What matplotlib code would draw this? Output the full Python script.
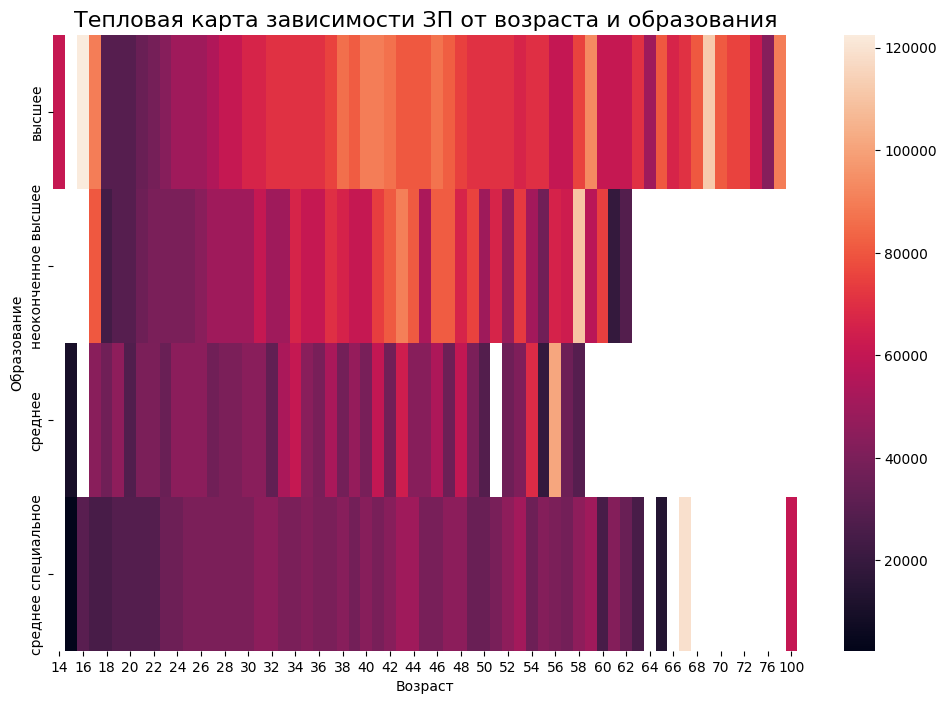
import numpy as np
import pandas as pd
import seaborn as sns
from matplotlib import pyplot as plt

n = np.nan
ages = list(range(14, 73)) + [74, 76, 78, 100]
education = ['высшее', 'неоконченное высшее', 'среднее', 'среднее специальное']

higher = [61000, n, 122500, 90000, 29200, 29200, 29200, 35000, 38500, 43000,
          50000, 50000, 50000, 54500, 61000, 61000, 66500, 66500, 70500, 70500,
          70500, 70500, 70500, 75500, 86000, 81400, 90000, 90000, 86500, 80500,
          80500, 80500, 87000, 82000, 75000, 70500, 70500, 70500, 70500, 66500,
          70000, 70000, 60500, 60500, 75500, 93000, 61000, 61000, 61000, 70500,
          50000, 80500, 66500, 70500, 80500, 112000, 81000, 75500, 75500, 62000,
          43000, 90000, n]
incomplete = [n, n, n, 80500, 23700, 29200, 29200, 36000, 39500, 39500,
              39500, 39500, 44000, 50000, 50000, 50000, 50000, 61000, 50000, 50000,
              66500, 61000, 61000, 70000, 66000, 61000, 61000, 74000, 81000, 90500,
              81000, 53500, 81500, 81500, 66500, 75500, 49500, 66500, 47500, 73000,
              51000, 37000, 66000, 63000, 110000, 57000, 74500, 19000, 28500, n,
              n, n, n, n, n, n, n, n, n, n,
              n, n, n]
secondary = [n, 10300, n, 44000, 37000, 45500, 28000, 40000, 40000, 35000,
             44500, 44500, 44500, 37000, 40000, 40000, 44000, 44000, 32500, 53000,
             61000, 44000, 39000, 53000, 38000, 47000, 39000, 60000, 37500, 63500,
             43500, 43500, 54000, 36000, 60000, 40000, 28500, n, 36500, 41000,
             69000, 19000, 101000, 36000, 29500, n, n, n, n, n,
             n, n, n, n, n, n, n, n, n, n,
             n, n, n]
vocational = [n, 2400, 30500, 25000, 25000, 29000, 29000, 29000, 29000, 36000,
              36000, 40000, 40000, 40000, 40000, 40000, 40000, 45000, 45000, 39500,
              39500, 42500, 39500, 39500, 43500, 38000, 43500, 39000, 43500, 50000,
              50000, 39000, 39000, 45000, 45000, 35000, 35000, 39000, 45500, 51000,
              36000, 42500, 40000, 38000, 45500, 50000, 25000, 42500, 35000, 25000,
              n, 14000, n, 119000, n, n, n, n, n, n,
              n, n, 60500]

df = pd.DataFrame([higher, incomplete, secondary, vocational], index=education, columns=ages)

plt.figure(figsize=(12, 8))
sns.heatmap(df)
plt.title('Тепловая карта зависимости ЗП от возраста и образования', fontsize=16)
plt.xlabel('Возраст')
plt.ylabel('Образование')
plt.savefig('out.png', dpi=100, bbox_inches='tight')
